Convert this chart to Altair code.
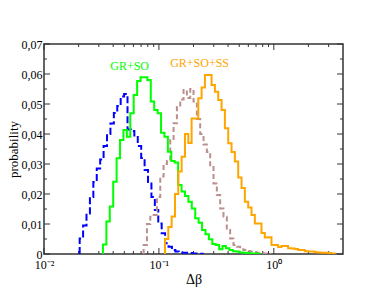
import altair as alt
import pandas as pd

# ---------------- data ----------------
# log-binned histograms: first bin edge (log10) and bin width (dex), heights per bin
blue_start, blue_width = -1.6896, 0.02974
blue_heights = [0.0052, 0.0095, 0.0135, 0.019, 0.024, 0.0285, 0.0315, 0.036, 0.040,
                0.0435, 0.047, 0.0493, 0.0525, 0.0533, 0.0415, 0.041, 0.0395, 0.036,
                0.032, 0.028, 0.024, 0.019, 0.0147, 0.0102, 0.0069, 0.0036, 0.0024,
                0.0013, 0.0008, 0.0006, 0.0004, 0.0004, 0.0003, 0.0002, 0.0002, 0.0001]

green_start, green_width = -1.487, 0.02974
green_heights = [0.0032, 0.0108, 0.0158, 0.0241, 0.0319, 0.038, 0.0413, 0.0391, 0.0469,
                 0.053, 0.0577, 0.0589, 0.0589, 0.058, 0.0508, 0.048, 0.0469, 0.0404,
                 0.0391, 0.0341, 0.031, 0.0305, 0.023, 0.0208, 0.0193, 0.0174, 0.0152,
                 0.0119, 0.0104, 0.008, 0.0066, 0.0049, 0.0033, 0.003, 0.0016, 0.0027,
                 0.0019, 0.0013, 0.0009, 0.0008, 0.0005, 0.0004, 0.0003, 0.0002, 0.0002,
                 0.0001]

brown_start, brown_width = -1.133, 0.02896
brown_heights = [0.003, 0.0100, 0.0124, 0.013, 0.019, 0.0258, 0.030, 0.031, 0.038, 0.0436,
                 0.049, 0.0515, 0.0547, 0.052, 0.055, 0.0508, 0.045, 0.040, 0.0365, 0.034,
                 0.029, 0.0235, 0.0197, 0.0152, 0.0124, 0.008, 0.0052, 0.003, 0.0024,
                 0.0016, 0.0013, 0.001, 0.0008, 0.0006, 0.0004, 0.0003, 0.0002, 0.0001]

orange_start, orange_width = -0.947, 0.02896
orange_heights = [0.005, 0.009, 0.0125, 0.02, 0.0275, 0.0324, 0.040, 0.037, 0.0452, 0.0452,
                  0.0519, 0.0555, 0.0597, 0.0597, 0.0563, 0.0541, 0.0513, 0.048, 0.0419,
                  0.0369, 0.034, 0.0308, 0.0255, 0.022, 0.0174, 0.0155, 0.013, 0.0102,
                  0.0102, 0.007, 0.0055, 0.0056, 0.003, 0.003, 0.0023, 0.0027, 0.0027,
                  0.0019, 0.0018, 0.0017, 0.0013, 0.0013, 0.0009, 0.0008, 0.0008, 0.0006,
                  0.0005, 0.0004, 0.0004, 0.0003, 0.0002]

x_tick_labels = {0.01: "10⁻²", 0.1: "10⁻¹", 1: "10⁰"}
x_major = [0.01, 0.1, 1]
x_minor = [0.02, 0.03, 0.04, 0.05, 0.06, 0.07, 0.08, 0.09,
           0.2, 0.3, 0.4, 0.5, 0.6, 0.7, 0.8, 0.9, 2, 3]
y_major = [0, 0.01, 0.02, 0.03, 0.04, 0.05, 0.06, 0.07]
y_minor = [0.005, 0.015, 0.025, 0.035, 0.045, 0.055, 0.065]

label_texts = ["GR+SO", "GR+SO+SS"]
label_x = [0.0556, 0.226]
label_y = [0.0627, 0.0638]
label_colors = ["#00ff00", "#ffa500"]

# ---------------- build ----------------
W, H = 299, 210
FONT = "Liberation Serif"
FRAME = "#333333"


def step_frame(start, width, heights):
    edges = [10 ** (start + width * k) for k in range(len(heights) + 1)]
    rows = [{"x": edges[0], "y": 0.0, "i": 0}]
    for k, h in enumerate(heights):
        rows.append({"x": edges[k], "y": h, "i": k + 1})
    rows.append({"x": edges[-1], "y": 0.0, "i": len(heights) + 1})
    return pd.DataFrame(rows)


xscale = alt.Scale(type="log", domain=[0.01, 4], nice=False)
yscale = alt.Scale(domain=[0, 0.07], nice=False, zero=True)

x_axis = alt.Axis(
    values=x_major,
    labelExpr="datum.value < 0.05 ? '10⁻²' : (datum.value < 0.5 ? '10⁻¹' : '10⁰')",
    ticks=False, domain=False, grid=False, labelFlush=False, labelOverlap=False,
    labelFont=FONT, labelFontSize=12, labelColor="black", labelPadding=5,
    title="Δβ", titleFont=FONT, titleFontSize=14, titleFontWeight="normal",
    titleColor="black", titlePadding=2,
)
y_axis = alt.Axis(
    values=y_major,
    labelExpr="datum.value == 0 ? '0' : replace(format(datum.value, '.2f'), '.', ',')",
    ticks=False, domain=False, grid=False, labelFlush=False, labelOverlap=False,
    labelFont=FONT, labelFontSize=12, labelColor="black", labelPadding=2,
    title="probability", titleFont=FONT, titleFontSize=13, titleFontWeight="normal",
    titleColor="black", titlePadding=1,
)


def hist_layer(start, width, heights, color, dash=None):
    kw = dict(interpolate="step-after", color=color, strokeWidth=2, clip=True)
    if dash:
        kw["strokeDash"] = dash
    return alt.Chart(step_frame(start, width, heights)).mark_line(**kw).encode(
        x=alt.X("x:Q", scale=xscale, axis=x_axis),
        y=alt.Y("y:Q", scale=yscale, axis=y_axis),
        order="i:Q",
    )


layers = [
    hist_layer(blue_start, blue_width, blue_heights, "#0000ff", [7, 3]),
    hist_layer(brown_start, brown_width, brown_heights, "#bc8f8f", [5, 3]),
    hist_layer(green_start, green_width, green_heights, "#00ff00"),
    hist_layer(orange_start, orange_width, orange_heights, "#ffa500"),
]


def xtick_layer(vals, length, top):
    df = pd.DataFrame({"x": vals})
    y1, y2 = (0, length) if top else (H, H - length)
    return alt.Chart(df).mark_rule(color=FRAME, strokeWidth=1).encode(
        x=alt.X("x:Q", scale=xscale, axis=x_axis),
        y=alt.value(y1), y2=alt.value(y2),
    )


def ytick_layer(vals, length, right):
    df = pd.DataFrame({"y": vals})
    x1, x2 = (W, W - length) if right else (0, length)
    return alt.Chart(df).mark_rule(color=FRAME, strokeWidth=1).encode(
        y=alt.Y("y:Q", scale=yscale, axis=y_axis),
        x=alt.value(x1), x2=alt.value(x2),
    )


ticks = [
    xtick_layer(x_major, 6, False), xtick_layer(x_minor, 3, False),
    xtick_layer(x_major, 6, True), xtick_layer(x_minor, 3, True),
    ytick_layer(y_major, 6, False), ytick_layer(y_minor, 3, False),
    ytick_layer(y_major, 6, True), ytick_layer(y_minor, 3, True),
]

labels_df = pd.DataFrame({"x": label_x, "y": label_y, "t": label_texts, "c": label_colors})
labels = alt.Chart(labels_df).mark_text(font=FONT, fontSize=12, baseline="middle",
                                        align="center").encode(
    x=alt.X("x:Q", scale=xscale, axis=x_axis),
    y=alt.Y("y:Q", scale=yscale, axis=y_axis),
    text="t:N",
    color=alt.Color("c:N", scale=None),
)

chart = alt.layer(*ticks, *layers, labels).properties(
    width=W, height=H,
    autosize=alt.AutoSizeParams(type="none"),
    padding={"left": 36, "top": 36, "right": 36, "bottom": 37},
    background="white",
).configure_view(stroke=FRAME, strokeWidth=1.5)

chart.save("out.html", embed_options={"renderer": "svg", "actions": False})
